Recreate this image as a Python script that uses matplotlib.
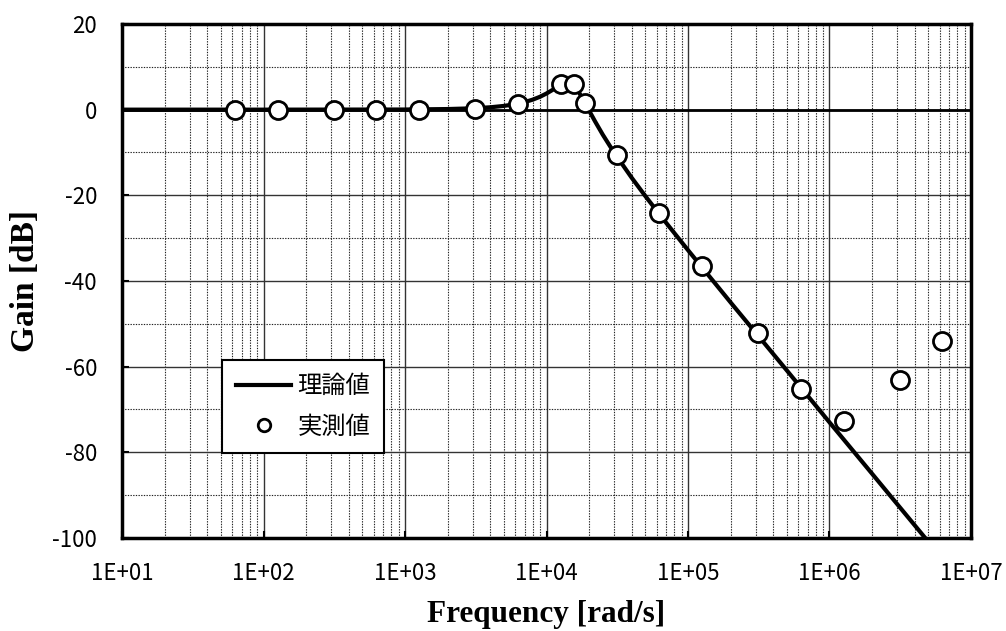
import math
import matplotlib
matplotlib.use("Agg")
import matplotlib.pyplot as plt
from matplotlib.lines import Line2D
from matplotlib.ticker import LogLocator, FixedLocator, FuncFormatter, MultipleLocator

# Theoretical gain curve (rad/s, dB)
theory_freq = [10, 100, 1000, 2000, 3000, 4000, 5000, 6000, 7000, 8000, 9000,
               10000, 11000, 12000, 13000, 14000, 15000, 16000, 17000, 18000,
               19000, 20000, 22000, 25000, 30000, 40000, 50000, 70000,
               100000, 200000, 500000, 1000000, 2000000, 5000000]
theory_gain = [0.0, 0.0, 0.03, 0.14, 0.31, 0.55, 0.87, 1.28, 1.76, 2.34, 3.01,
               3.77, 4.58, 5.38, 6.03, 6.30, 6.02, 5.18, 3.96, 2.57,
               1.16, -0.21, -2.70, -5.86, -10.0, -15.9, -20.2, -26.4,
               -32.8, -45.0, -60.9, -73.0, -85.0, -100.9]

# Measured gain (rad/s, dB)
meas_freq = [62.8, 125.7, 314.2, 628.3, 1257, 3142, 6283, 12566, 15708, 18850,
             31416, 62832, 125664, 314159, 628319, 1256637, 3141593, 6283185]
meas_gain = [0.0, 0.0, 0.0, 0.0, 0.0, 0.2, 1.4, 5.9, 5.9, 1.6,
             -10.6, -24.2, -36.5, -52.2, -65.3, -72.6, -63.1, -54.1]

x_ticks = [1e1, 1e2, 1e3, 1e4, 1e5, 1e6, 1e7]
y_ticks = [-100, -80, -60, -40, -20, 0, 20]

legend_labels = ["理論値", "実測値"]
x_label = "Frequency [rad/s]"
y_label = "Gain [dB]"

jp_font = ["Noto Sans CJK JP", "DejaVu Sans"]

fig = plt.figure(figsize=(10.06, 6.31), dpi=100)
ax = fig.add_axes([0.1213, 0.1474, 0.8439, 0.8146])

ax.set_xscale("log")
ax.set_xlim(1e1, 1e7)
ax.set_ylim(-100, 20)

# Grid: solid at decades / every 20 dB, dotted in between
ax.xaxis.set_major_locator(FixedLocator(x_ticks))
ax.xaxis.set_minor_locator(LogLocator(base=10, subs=range(2, 10), numticks=100))
ax.yaxis.set_major_locator(FixedLocator(y_ticks))
ax.yaxis.set_minor_locator(MultipleLocator(10))
ax.grid(which="major", color="#333333", linewidth=1.0, linestyle="-")
ax.grid(which="minor", color="#222222", linewidth=0.8, linestyle=(0, (1.2, 1.2)))
ax.set_axisbelow(True)
ax.axhline(0, color="black", linewidth=2.0, zorder=1.5)

ax.xaxis.set_major_formatter(FuncFormatter(lambda v, p: "1E+%02d" % round(math.log10(v))))
ax.yaxis.set_major_formatter(FuncFormatter(lambda v, p: "%d" % v))

ax.tick_params(which="major", direction="in", length=5, width=1.5, labelsize=16)
ax.tick_params(axis="x", which="major", pad=17)
ax.tick_params(axis="y", which="major", pad=18)
ax.tick_params(which="minor", length=0)
for lab in ax.get_xticklabels() + ax.get_yticklabels():
    lab.set_fontfamily(jp_font)

for s in ax.spines.values():
    s.set_linewidth(2.5)
    s.set_color("black")

ax.plot(theory_freq, theory_gain, color="black", linewidth=3.0, zorder=3,
        solid_capstyle="butt")
ax.plot(meas_freq, meas_gain, linestyle="none", marker="o", markersize=13,
        markerfacecolor="white", markeredgecolor="black", markeredgewidth=2.0,
        zorder=4, clip_on=False)

ax.set_xlabel(x_label, fontsize=22.5, fontweight="bold", family="Liberation Serif", labelpad=11)
ax.set_ylabel(y_label, fontsize=24, fontweight="bold", family="Liberation Serif", labelpad=8)

handles = [
    Line2D([], [], color="black", linewidth=3.0),
    Line2D([], [], linestyle="none", marker="o", markersize=9,
           markerfacecolor="white", markeredgecolor="black", markeredgewidth=2.0),
]
leg = ax.legend(handles, legend_labels, loc="lower left",
                bbox_to_anchor=(0.118, 0.165), borderaxespad=0,
                prop={"family": jp_font, "size": 17.5},
                frameon=True, fancybox=False, edgecolor="black", framealpha=1,
                handlelength=2.3, handletextpad=0.25, borderpad=0.55, labelspacing=0.6)
leg.get_frame().set_linewidth(1.5)

fig.savefig("out.png", dpi=100)
